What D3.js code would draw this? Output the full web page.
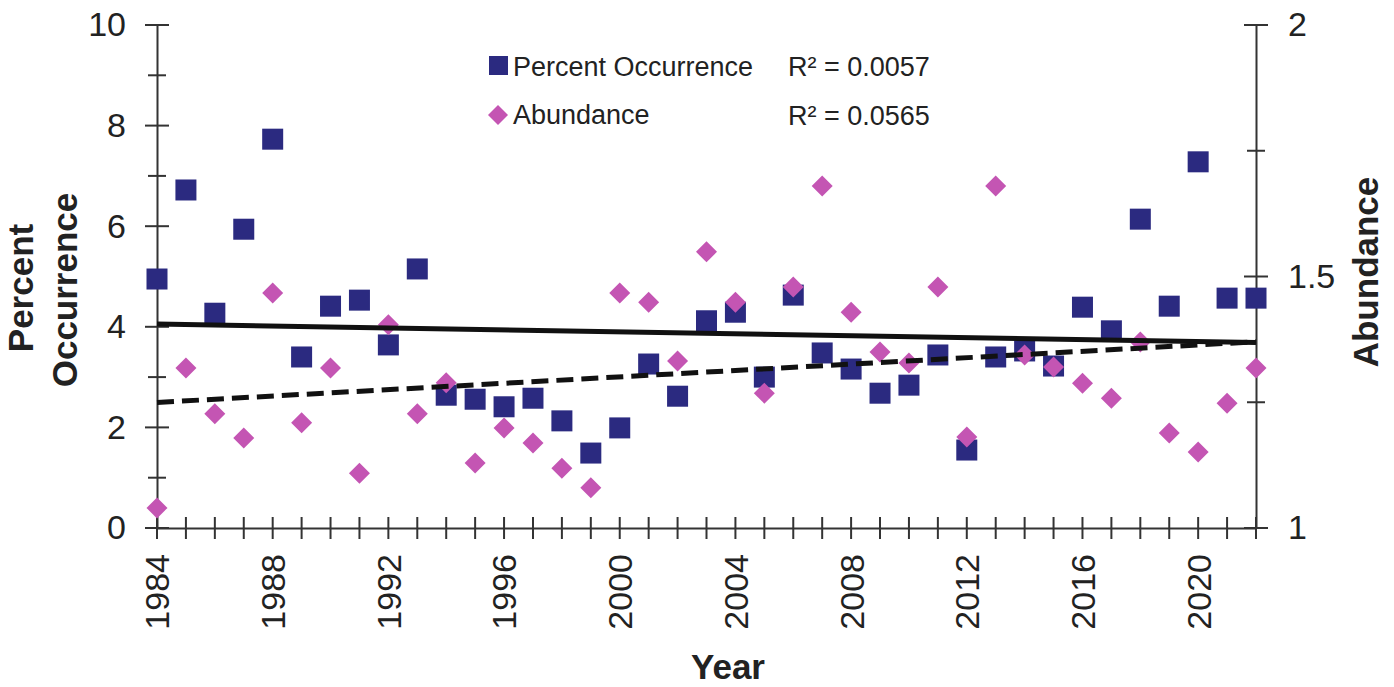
<!DOCTYPE html>
<html>
<head>
<meta charset="utf-8">
<script src="https://cdn.jsdelivr.net/npm/d3@7"></script>
<style>
  html, body { margin: 0; padding: 0; background: #fff; }
  svg { display: block; font-family: "Liberation Sans", Arial, sans-serif; }
</style>
</head>
<body>
<svg id="chart" width="1394" height="687"></svg>
<script>
// ---- data ----
const years = [1984,1985,1986,1987,1988,1989,1990,1991,1992,1993,1994,1995,1996,1997,1998,1999,2000,2001,2002,2003,2004,2005,2006,2007,2008,2009,2010,2011,2012,2013,2014,2015,2016,2017,2018,2019,2020,2021,2022];
const percentOccurrence = [4.95,6.72,4.27,5.94,7.73,3.40,4.41,4.53,3.64,5.15,2.64,2.56,2.41,2.58,2.13,1.49,1.99,3.26,2.62,4.12,4.29,3.00,4.63,3.48,3.16,2.68,2.84,3.44,1.55,3.40,3.52,3.22,4.39,3.92,6.14,4.41,7.28,4.57,4.57];
const abundance = [1.040,1.318,1.227,1.179,1.467,1.209,1.318,1.109,1.404,1.227,1.289,1.129,1.199,1.169,1.119,1.080,1.467,1.449,1.332,1.549,1.449,1.268,1.479,1.680,1.429,1.350,1.328,1.479,1.181,1.680,1.344,1.320,1.288,1.258,1.370,1.189,1.151,1.248,1.318];
const xTickLabels = [1984,1988,1992,1996,2000,2004,2008,2012,2016,2020];
const leftTickLabels = [0,2,4,6,8,10];
const rightTickLabels = [1,1.5,2];
const legendLabels = ["Percent Occurrence","Abundance"];
const r2Labels = ["R\u00B2 = 0.0057","R\u00B2 = 0.0565"];

// ---- layout ----
const svg = d3.select("#chart");
const x = d3.scaleLinear().domain([1984, 2022]).range([157, 1256]);
const yL = d3.scaleLinear().domain([0, 10]).range([528, 25]);
const yR = d3.scaleLinear().domain([1, 2]).range([528, 25]);

const navy = "#2b2a80";
const pink = "#c455b3";
const axisColor = "#333";
const textColor = "#222";

// ---- axes ----
function styleAxis(g) {
  g.select(".domain").attr("stroke", axisColor).attr("stroke-width", 2);
  g.selectAll(".tick line").remove();
  g.selectAll("text").attr("fill", textColor).attr("font-family", "Liberation Sans, Arial, sans-serif");
}

// left axis
const gL = svg.append("g").attr("transform", "translate(157,0)")
  .call(d3.axisLeft(yL).tickValues(leftTickLabels).tickSize(0).tickPadding(31).tickSizeOuter(0));
styleAxis(gL);
gL.selectAll("text").attr("font-size", 34);
// right axis
const gR = svg.append("g").attr("transform", "translate(1256,0)")
  .call(d3.axisRight(yR).tickValues(rightTickLabels).tickSize(0).tickPadding(32).tickSizeOuter(0)
    .tickFormat(d => d3.format("~g")(d)));
styleAxis(gR);
gR.selectAll("text").attr("font-size", 34);
// bottom axis
const gB = svg.append("g").attr("transform", "translate(0,528)")
  .call(d3.axisBottom(x).tickValues(xTickLabels).tickSize(0).tickFormat(d3.format("d")).tickSizeOuter(0));
styleAxis(gB);
gB.selectAll("text").attr("font-size", 34)
  .attr("transform", "rotate(-90)")
  .attr("text-anchor", "end")
  .attr("x", -26).attr("y", 0).attr("dy", "0.35em");

// tick marks crossing the axes
const ticks = svg.append("g").attr("stroke", axisColor).attr("stroke-width", 2);
d3.range(0, 11).forEach(v => {
  const major = v % 2 === 0;
  const h = major ? 12 : 9;
  ticks.append("line").attr("x1", 157 - h).attr("x2", 157 + h).attr("y1", yL(v)).attr("y2", yL(v));
});
[1, 1.25, 1.5, 1.75, 2].forEach((v, i) => {
  const h = i % 2 === 0 ? 12 : 9;
  ticks.append("line").attr("x1", 1256 - h).attr("x2", 1256 + h).attr("y1", yR(v)).attr("y2", yR(v));
});
years.forEach(yr => {
  ticks.append("line").attr("x1", x(yr)).attr("x2", x(yr)).attr("y1", 517).attr("y2", 539);
});

// ---- markers ----
const sq = 21;
svg.append("g").selectAll("rect").data(years.map((yr, i) => [yr, percentOccurrence[i]]))
  .join("rect")
  .attr("x", d => x(d[0]) - sq / 2).attr("y", d => yL(d[1]) - sq / 2)
  .attr("width", sq).attr("height", sq).attr("fill", navy);

const dia = 10.5;
const diamondPath = `M0,${-dia}L${dia},0L0,${dia}L${-dia},0Z`;
svg.append("g").selectAll("path").data(years.map((yr, i) => [yr, abundance[i]]))
  .join("path")
  .attr("d", diamondPath)
  .attr("transform", d => `translate(${x(d[0])},${yR(d[1])})`)
  .attr("fill", pink);

// ---- linear trend lines (least squares on the data) ----
function fit(xs, ys) {
  const mx = d3.mean(xs), my = d3.mean(ys);
  const b = d3.sum(xs.map((v, i) => (v - mx) * (ys[i] - my))) / d3.sum(xs.map(v => (v - mx) ** 2));
  return v => my + b * (v - mx);
}
const fPO = fit(years, percentOccurrence);
const fAb = fit(years, abundance);
const ends = [1984, 2022];
svg.append("path")
  .attr("d", d3.line().x(d => x(d)).y(d => yL(fPO(d)))(ends))
  .attr("stroke", "#111").attr("stroke-width", 5).attr("fill", "none");
svg.append("path")
  .attr("d", d3.line().x(d => x(d)).y(d => yR(fAb(d)))(ends))
  .attr("stroke", "#111").attr("stroke-width", 5).attr("fill", "none")
  .attr("stroke-dasharray", "17,8");

// ---- legend ----
const lg = svg.append("g").attr("font-size", 27).attr("fill", textColor);
lg.append("rect").attr("x", 489).attr("y", 56).attr("width", 19).attr("height", 19).attr("fill", navy);
lg.append("path").attr("d", `M0,-10L10,0L0,10L-10,0Z`).attr("transform", "translate(498,115)").attr("fill", pink);
lg.append("text").attr("x", 513).attr("y", 76).text(legendLabels[0]);
lg.append("text").attr("x", 513).attr("y", 124).text(legendLabels[1]);
lg.append("text").attr("x", 788).attr("y", 76).text(r2Labels[0]);
lg.append("text").attr("x", 788).attr("y", 125).text(r2Labels[1]);

// ---- axis titles ----
const titles = svg.append("g").attr("font-weight", "bold").attr("fill", textColor).attr("font-size", 35);
titles.append("text").attr("text-anchor", "middle").attr("transform", "translate(33,288) rotate(-90)").text("Percent");
titles.append("text").attr("text-anchor", "middle").attr("transform", "translate(77,290) rotate(-90)").text("Occurrence");
titles.append("text").attr("text-anchor", "middle").attr("transform", "translate(1378,272) rotate(-90)").text("Abundance");
titles.append("text").attr("text-anchor", "middle").attr("x", 728).attr("y", 679).text("Year");
</script>
</body>
</html>
